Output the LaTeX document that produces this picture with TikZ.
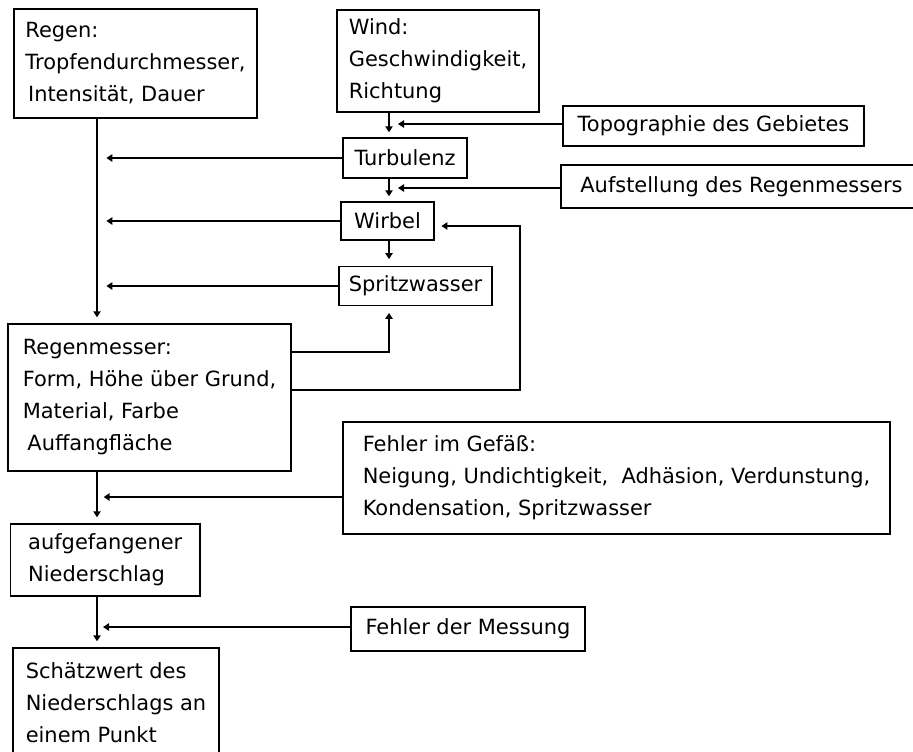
\documentclass[tikz,border=0pt]{standalone}
\usepackage{fontspec}
\setmainfont{DejaVu Sans}
\usetikzlibrary{arrows.meta}

\begin{document}
\begin{tikzpicture}[x=0.75pt,y=-0.75pt,
    box/.style={draw,rectangle,line width=1.1pt,align=left,inner sep=0pt,
        font=\fontsize{15.7pt}{24pt}\selectfont},
    arr/.style={-{Triangle[length=4.5pt,width=5.5pt]},line width=1.1pt}]
        \fill[white] (0,0) rectangle (913,751);
        \useasboundingbox (0,0) rectangle (913,751);

        %%%%%%%%%% Einfluesse oben %%%%%%%%%%
        \node[box,minimum width=182.25pt,minimum height=81.75pt] (Regen) at (135.5,63.5) {Regen:\\Tropfendurchmesser,\\\hspace{2pt}Intensität, Dauer};
        \node[box,minimum width=151.5pt,minimum height=76.5pt] (Wind) at (438,61) {Wind:\\Geschwindigkeit,\\Richtung};
        \node[box,minimum width=225.75pt,minimum height=30pt] (Topo) at (713.5,126) {Topographie des Gebietes};
        \node[box,minimum width=270.75pt,minimum height=32.25pt] (Aufst) at (741.5,186.5) {Aufstellung des Regenmessers};

        %%%%%%%%%% Kette %%%%%%%%%%
        \node[box,minimum width=93pt,minimum height=30pt] (Turb) at (405,158) {Turbulenz};
        \node[box,minimum width=69.75pt,minimum height=28.5pt] (Wirbel) at (387.5,221) {Wirbel};
        \node[box,minimum width=114.75pt,minimum height=29.25pt] (Spritz) at (415.5,286) {Spritzwasser};

        %%%%%%%%%% Regenmesser %%%%%%%%%%
        \node[box,minimum width=212.25pt,minimum height=110.25pt] (Messer) at (149.5,397.5) {Regenmesser:\\Form, Höhe über Grund,\\Material, Farbe\\\hspace{3.5pt}Auffangfläche};
        \node[box,minimum width=410.25pt,minimum height=84pt] (Gefaess) at (616.5,478) {Fehler im Gefäß:\\Neigung, Undichtigkeit,~ Adhäsion, Verdunstung,\\Kondensation, Spritzwasser};
        \node[box,minimum width=142.1pt,minimum height=54pt] (Aufg) at (105.25,560) {aufgefangener\\Niederschlag};
        \node[box,minimum width=175.5pt,minimum height=33pt] (Messung) at (468,629) {Fehler der Messung};
        \node[box,minimum width=154.5pt,minimum height=82.5pt] (Schaetz) at (116,703) {Schätzwert des\\Niederschlags an\\einem Punkt};

        %%%%%%%%%% Hilfspunkte %%%%%%%%%%
        \coordinate (ax) at (389,0);
        \coordinate (rx) at (97,0);
        \coordinate (turn) at (520,0);
        \coordinate (j1) at (389,124);
        \coordinate (j2) at (389,188);
        \coordinate (j3) at (97,497);
        \coordinate (j4) at (97,627);
        \coordinate (wIn) at ([shift={(0,5)}]Wirbel.east);
        \coordinate (mOut1) at ([shift={(0,-45.5)}]Messer.east);
        \coordinate (mOut2) at ([shift={(0,-7.5)}]Messer.east);

        %%%%%%%%%% Pfeile Kette %%%%%%%%%%
        \draw[arr,shorten >=3.75pt] (Wind.south -| ax) -- (Turb.north -| ax);
        \draw[arr,shorten >=6.75pt] (Topo.west |- j1) -- (j1);
        \draw[arr,shorten >=3.75pt] (Turb.south -| ax) -- (Wirbel.north -| ax);
        \draw[arr,shorten >=6.75pt] (Aufst.west |- j2) -- (j2);
        \draw[arr,shorten >=5pt] (Wirbel.south -| ax) -- (Spritz.north -| ax);

        %%%%%%%%%% Pfeile links %%%%%%%%%%
        \draw[arr,shorten >=4.5pt] (Regen.south -| rx) -- (Messer.north -| rx);
        \draw[arr,shorten >=7pt] (Turb.west) -- (Turb.west -| rx);
        \draw[arr,shorten >=7pt] (Wirbel.west) -- (Wirbel.west -| rx);
        \draw[arr,shorten >=7pt] (Spritz.west) -- (Spritz.west -| rx);

        %%%%%%%%%% Rueckwirkung %%%%%%%%%%
        \draw[arr,shorten >=5pt] (mOut1) -| (Spritz.south -| ax);
        \draw[arr,shorten >=5pt] (mOut2) -| (wIn -| turn) -- (wIn);

        %%%%%%%%%% Pfeile unten %%%%%%%%%%
        \draw[arr,shorten >=4.5pt] (Messer.south -| rx) -- (Aufg.north -| rx);
        \draw[arr,shorten >=5pt] (Gefaess.west |- j3) -- (j3);
        \draw[arr,shorten >=4.5pt] (Aufg.south -| rx) -- (Schaetz.north -| rx);
        \draw[arr,shorten >=4.5pt] (Messung.west |- j4) -- (j4);
    \end{tikzpicture}
\end{document}
